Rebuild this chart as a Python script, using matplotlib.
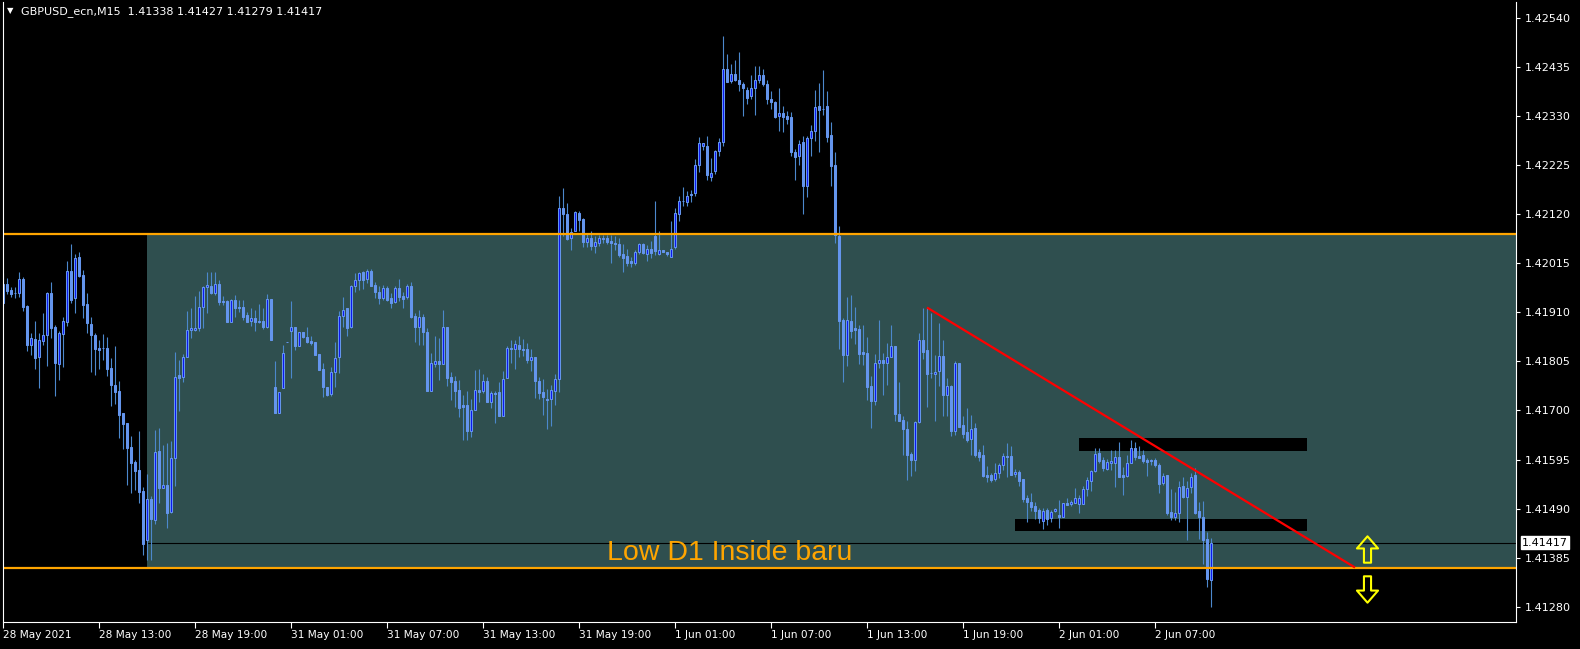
import matplotlib
matplotlib.use('Agg')
import matplotlib.pyplot as plt
import matplotlib.transforms as mtrans
from matplotlib.path import Path
import numpy as np

# ---------------- data (GBPUSD M15) ----------------
opens = [
 1.41929, 1.41970, 1.41958, 1.41951, 1.41952, 1.41981, 1.41923, 1.41840, 1.41853, 1.41815,
 1.41849, 1.41861, 1.41951, 1.41879, 1.41800, 1.41863, 1.41890, 1.41998, 1.41940, 1.42029,
 1.41990, 1.41928, 1.41885, 1.41861, 1.41834, 1.41834, 1.41834, 1.41791, 1.41754, 1.41742,
 1.41694, 1.41673, 1.41622, 1.41590, 1.41573, 1.41528, 1.41423, 1.41510, 1.41465, 1.41613,
 1.41533, 1.41540, 1.41483, 1.41598, 1.41775, 1.41772, 1.41815, 1.41871, 1.41873, 1.41877,
 1.41921, 1.41963, 1.41966, 1.41952, 1.41970, 1.41934, 1.41934, 1.41890, 1.41936, 1.41921,
 1.41921, 1.41904, 1.41891, 1.41898, 1.41892, 1.41892, 1.41878, 1.41939, 1.41749, 1.41695,
 1.41747, 1.41846, 1.41869, 1.41878, 1.41837, 1.41867, 1.41857, 1.41849, 1.41847, 1.41820,
 1.41789, 1.41750, 1.41735, 1.41782, 1.41815, 1.41902, 1.41918, 1.41879, 1.41966, 1.41979,
 1.41995, 1.41982, 1.41998, 1.41968, 1.41954, 1.41941, 1.41962, 1.41940, 1.41932, 1.41961,
 1.41945, 1.41942, 1.41966, 1.41901, 1.41879, 1.41899, 1.41868, 1.41742, 1.41800, 1.41806,
 1.41800, 1.41879, 1.41772, 1.41762, 1.41744, 1.41712, 1.41712, 1.41657, 1.41701, 1.41744,
 1.41742, 1.41763, 1.41719, 1.41737, 1.41740, 1.41688, 1.41769, 1.41834, 1.41831, 1.41840,
 1.41832, 1.41832, 1.41808, 1.41814, 1.41763, 1.41740, 1.41725, 1.41724, 1.41742, 1.41768,
 1.42133, 1.42121, 1.42068, 1.42083, 1.42123, 1.42110, 1.42061, 1.42069, 1.42052, 1.42058,
 1.42069, 1.42069, 1.42063, 1.42059, 1.42056, 1.42035, 1.42031, 1.42019, 1.42016, 1.42038,
 1.42056, 1.42035, 1.42046, 1.42073, 1.42034, 1.42044, 1.42039, 1.42029, 1.42049, 1.42120,
 1.42148, 1.42146, 1.42161, 1.42166, 1.42224, 1.42265, 1.42266, 1.42200, 1.42213, 1.42255,
 1.42274, 1.42430, 1.42404, 1.42419, 1.42407, 1.42397, 1.42386, 1.42372, 1.42389, 1.42407,
 1.42418, 1.42397, 1.42367, 1.42359, 1.42329, 1.42335, 1.42330, 1.42327, 1.42253, 1.42243,
 1.42273, 1.42179, 1.42282, 1.42297, 1.42352, 1.42345, 1.42352, 1.42290, 1.42225, 1.42074,
 1.41894, 1.41819, 1.41892, 1.41877, 1.41874, 1.41825, 1.41822, 1.41753, 1.41721, 1.41801,
 1.41808, 1.41801, 1.41815, 1.41838, 1.41693, 1.41680, 1.41660, 1.41607, 1.41593, 1.41675,
 1.41850, 1.41830, 1.41780, 1.41777, 1.41785, 1.41817, 1.41734, 1.41753, 1.41657, 1.41801,
 1.41669, 1.41653, 1.41638, 1.41663, 1.41610, 1.41605, 1.41562, 1.41561, 1.41553, 1.41566,
 1.41583, 1.41603, 1.41603, 1.41563, 1.41568, 1.41553, 1.41512, 1.41504, 1.41496, 1.41487,
 1.41464, 1.41487, 1.41469, 1.41485, 1.41476, 1.41473, 1.41501, 1.41500, 1.41503, 1.41500,
 1.41500, 1.41531, 1.41550, 1.41570, 1.41608, 1.41593, 1.41574, 1.41588, 1.41587, 1.41601,
 1.41562, 1.41560, 1.41588, 1.41619, 1.41603, 1.41605, 1.41593, 1.41592, 1.41594, 1.41583,
 1.41544, 1.41562, 1.41482, 1.41471, 1.41481, 1.41538, 1.41514, 1.41537, 1.41562, 1.41485,
 1.41473, 1.41424, 1.41338]

highs = [
 1.41993, 1.41983, 1.41963, 1.41963, 1.41996, 1.41986, 1.41926, 1.41865, 1.41892, 1.41865,
 1.41908, 1.41953, 1.41975, 1.41883, 1.41869, 1.41899, 1.42019, 1.42056, 1.42035, 1.42039,
 1.42000, 1.41951, 1.41899, 1.41865, 1.41851, 1.41864, 1.41856, 1.41812, 1.41838, 1.41762,
 1.41694, 1.41673, 1.41645, 1.41594, 1.41656, 1.41537, 1.41565, 1.41517, 1.41658, 1.41662,
 1.41627, 1.41630, 1.41635, 1.41825, 1.41808, 1.41820, 1.41913, 1.41919, 1.41944, 1.41956,
 1.41966, 1.41996, 1.41996, 1.41996, 1.41979, 1.41945, 1.41936, 1.41938, 1.41946, 1.41936,
 1.41936, 1.41910, 1.41919, 1.41914, 1.41928, 1.41919, 1.41949, 1.41939, 1.41806, 1.41739,
 1.41840, 1.41846, 1.41934, 1.41878, 1.41867, 1.41867, 1.41878, 1.41859, 1.41847, 1.41821,
 1.41802, 1.41750, 1.41793, 1.41847, 1.41912, 1.41943, 1.41919, 1.41969, 1.41994, 1.41997,
 1.41999, 1.42002, 1.42002, 1.41974, 1.41965, 1.41968, 1.41966, 1.41951, 1.41966, 1.41981,
 1.41954, 1.41970, 1.41975, 1.41908, 1.41915, 1.41907, 1.41876, 1.41823, 1.41860, 1.41855,
 1.41915, 1.41879, 1.41782, 1.41774, 1.41764, 1.41733, 1.41742, 1.41725, 1.41787, 1.41789,
 1.41777, 1.41772, 1.41742, 1.41742, 1.41761, 1.41785, 1.41837, 1.41851, 1.41851, 1.41860,
 1.41853, 1.41844, 1.41831, 1.41814, 1.41772, 1.41767, 1.41745, 1.41755, 1.41778, 1.42159,
 1.42176, 1.42144, 1.42091, 1.42126, 1.42127, 1.42111, 1.42079, 1.42083, 1.42072, 1.42076,
 1.42076, 1.42076, 1.42076, 1.42072, 1.42068, 1.42056, 1.42046, 1.42029, 1.42044, 1.42058,
 1.42058, 1.42054, 1.42063, 1.42148, 1.42084, 1.42044, 1.42039, 1.42106, 1.42132, 1.42158,
 1.42178, 1.42169, 1.42172, 1.42238, 1.42284, 1.42272, 1.42287, 1.42240, 1.42257, 1.42283,
 1.42501, 1.42463, 1.42441, 1.42450, 1.42467, 1.42402, 1.42392, 1.42418, 1.42436, 1.42436,
 1.42430, 1.42407, 1.42384, 1.42361, 1.42389, 1.42350, 1.42341, 1.42338, 1.42260, 1.42279,
 1.42287, 1.42287, 1.42311, 1.42386, 1.42400, 1.42429, 1.42382, 1.42317, 1.42253, 1.42095,
 1.41897, 1.41942, 1.41947, 1.41922, 1.41883, 1.41882, 1.41858, 1.41773, 1.41821, 1.41894,
 1.41822, 1.41845, 1.41883, 1.41838, 1.41761, 1.41688, 1.41678, 1.41610, 1.41678, 1.41865,
 1.41919, 1.41920, 1.41909, 1.41819, 1.41887, 1.41851, 1.41769, 1.41755, 1.41806, 1.41801,
 1.41688, 1.41706, 1.41690, 1.41674, 1.41618, 1.41625, 1.41581, 1.41567, 1.41587, 1.41588,
 1.41608, 1.41630, 1.41623, 1.41574, 1.41573, 1.41553, 1.41519, 1.41523, 1.41505, 1.41492,
 1.41492, 1.41492, 1.41487, 1.41492, 1.41508, 1.41503, 1.41512, 1.41508, 1.41533, 1.41519,
 1.41538, 1.41558, 1.41573, 1.41619, 1.41619, 1.41601, 1.41597, 1.41615, 1.41615, 1.41633,
 1.41580, 1.41605, 1.41637, 1.41632, 1.41623, 1.41615, 1.41598, 1.41596, 1.41598, 1.41588,
 1.41567, 1.41562, 1.41531, 1.41526, 1.41549, 1.41558, 1.41548, 1.41566, 1.41576, 1.41505,
 1.41506, 1.41439, 1.41427]

lows = [
 1.41923, 1.41950, 1.41943, 1.41940, 1.41943, 1.41913, 1.41828, 1.41819, 1.41789, 1.41747,
 1.41840, 1.41796, 1.41854, 1.41730, 1.41766, 1.41792, 1.41881, 1.41929, 1.41909, 1.41986,
 1.41897, 1.41866, 1.41783, 1.41776, 1.41788, 1.41808, 1.41774, 1.41710, 1.41713, 1.41642,
 1.41618, 1.41541, 1.41523, 1.41530, 1.41503, 1.41391, 1.41380, 1.41380, 1.41458, 1.41501,
 1.41533, 1.41448, 1.41480, 1.41539, 1.41699, 1.41760, 1.41815, 1.41854, 1.41869, 1.41869,
 1.41877, 1.41908, 1.41949, 1.41947, 1.41926, 1.41926, 1.41890, 1.41888, 1.41899, 1.41911,
 1.41893, 1.41888, 1.41880, 1.41869, 1.41887, 1.41875, 1.41876, 1.41850, 1.41695, 1.41695,
 1.41747, 1.41846, 1.41770, 1.41830, 1.41837, 1.41855, 1.41845, 1.41840, 1.41819, 1.41787,
 1.41728, 1.41730, 1.41731, 1.41751, 1.41779, 1.41878, 1.41860, 1.41876, 1.41954, 1.41958,
 1.41960, 1.41972, 1.41965, 1.41941, 1.41928, 1.41936, 1.41933, 1.41919, 1.41929, 1.41934,
 1.41919, 1.41939, 1.41898, 1.41847, 1.41840, 1.41839, 1.41742, 1.41742, 1.41792, 1.41765,
 1.41800, 1.41752, 1.41722, 1.41708, 1.41685, 1.41637, 1.41637, 1.41644, 1.41701, 1.41719,
 1.41737, 1.41719, 1.41705, 1.41673, 1.41687, 1.41687, 1.41769, 1.41801, 1.41788, 1.41815,
 1.41817, 1.41801, 1.41785, 1.41726, 1.41725, 1.41691, 1.41660, 1.41667, 1.41711, 1.41740,
 1.42072, 1.42064, 1.42042, 1.42083, 1.42084, 1.42049, 1.42049, 1.42042, 1.42036, 1.42052,
 1.42058, 1.42056, 1.42016, 1.42044, 1.42029, 1.41995, 1.42008, 1.42006, 1.42011, 1.42035,
 1.42035, 1.42019, 1.42027, 1.42032, 1.42033, 1.42038, 1.42031, 1.42029, 1.42046, 1.42106,
 1.42138, 1.42138, 1.42146, 1.42159, 1.42209, 1.42256, 1.42193, 1.42190, 1.42206, 1.42243,
 1.42265, 1.42402, 1.42400, 1.42404, 1.42384, 1.42330, 1.42356, 1.42366, 1.42332, 1.42400,
 1.42393, 1.42356, 1.42345, 1.42326, 1.42297, 1.42295, 1.42313, 1.42243, 1.42193, 1.42225,
 1.42121, 1.42156, 1.42245, 1.42277, 1.42253, 1.42332, 1.42273, 1.42180, 1.42058, 1.41832,
 1.41760, 1.41795, 1.41854, 1.41842, 1.41800, 1.41797, 1.41723, 1.41663, 1.41712, 1.41790,
 1.41732, 1.41755, 1.41814, 1.41678, 1.41678, 1.41605, 1.41551, 1.41559, 1.41571, 1.41673,
 1.41810, 1.41708, 1.41770, 1.41678, 1.41752, 1.41688, 1.41687, 1.41646, 1.41648, 1.41665,
 1.41640, 1.41633, 1.41605, 1.41601, 1.41591, 1.41557, 1.41546, 1.41546, 1.41548, 1.41556,
 1.41573, 1.41558, 1.41561, 1.41558, 1.41538, 1.41505, 1.41461, 1.41484, 1.41468, 1.41459,
 1.41446, 1.41456, 1.41461, 1.41482, 1.41449, 1.41471, 1.41498, 1.41496, 1.41501, 1.41481,
 1.41499, 1.41517, 1.41528, 1.41568, 1.41588, 1.41571, 1.41573, 1.41573, 1.41537, 1.41557,
 1.41519, 1.41558, 1.41587, 1.41594, 1.41598, 1.41588, 1.41560, 1.41583, 1.41580, 1.41523,
 1.41541, 1.41476, 1.41466, 1.41466, 1.41462, 1.41513, 1.41423, 1.41523, 1.41479, 1.41426,
 1.41372, 1.41322, 1.41279]

closes = [
 1.41970, 1.41956, 1.41948, 1.41951, 1.41980, 1.41922, 1.41840, 1.41854, 1.41813, 1.41851,
 1.41861, 1.41951, 1.41877, 1.41801, 1.41866, 1.41891, 1.41998, 1.41936, 1.42025, 1.41988,
 1.41926, 1.41886, 1.41861, 1.41831, 1.41829, 1.41834, 1.41789, 1.41755, 1.41740, 1.41690,
 1.41672, 1.41620, 1.41588, 1.41571, 1.41526, 1.41414, 1.41510, 1.41467, 1.41610, 1.41533,
 1.41540, 1.41481, 1.41598, 1.41772, 1.41770, 1.41815, 1.41872, 1.41876, 1.41876, 1.41921,
 1.41963, 1.41968, 1.41952, 1.41970, 1.41931, 1.41931, 1.41890, 1.41936, 1.41918, 1.41918,
 1.41900, 1.41889, 1.41897, 1.41888, 1.41888, 1.41878, 1.41938, 1.41851, 1.41695, 1.41739,
 1.41822, 1.41846, 1.41878, 1.41837, 1.41867, 1.41857, 1.41847, 1.41844, 1.41819, 1.41787,
 1.41749, 1.41733, 1.41782, 1.41812, 1.41902, 1.41914, 1.41877, 1.41966, 1.41979, 1.41994,
 1.41979, 1.41998, 1.41967, 1.41954, 1.41941, 1.41961, 1.41937, 1.41929, 1.41961, 1.41943,
 1.41938, 1.41966, 1.41900, 1.41879, 1.41899, 1.41868, 1.41742, 1.41802, 1.41806, 1.41800,
 1.41879, 1.41770, 1.41760, 1.41742, 1.41705, 1.41708, 1.41657, 1.41701, 1.41743, 1.41740,
 1.41763, 1.41719, 1.41737, 1.41735, 1.41688, 1.41767, 1.41833, 1.41831, 1.41842, 1.41831,
 1.41829, 1.41808, 1.41814, 1.41762, 1.41738, 1.41729, 1.41722, 1.41744, 1.41768, 1.42133,
 1.42121, 1.42066, 1.42081, 1.42124, 1.42107, 1.42061, 1.42069, 1.42052, 1.42061, 1.42069,
 1.42066, 1.42061, 1.42059, 1.42055, 1.42033, 1.42026, 1.42016, 1.42016, 1.42038, 1.42056,
 1.42036, 1.42045, 1.42037, 1.42041, 1.42043, 1.42038, 1.42035, 1.42045, 1.42123, 1.42148,
 1.42148, 1.42159, 1.42162, 1.42225, 1.42272, 1.42271, 1.42203, 1.42208, 1.42255, 1.42274,
 1.42430, 1.42402, 1.42419, 1.42407, 1.42397, 1.42390, 1.42369, 1.42390, 1.42407, 1.42418,
 1.42397, 1.42367, 1.42359, 1.42327, 1.42335, 1.42327, 1.42324, 1.42253, 1.42241, 1.42270,
 1.42179, 1.42282, 1.42298, 1.42349, 1.42343, 1.42345, 1.42285, 1.42223, 1.42076, 1.41892,
 1.41819, 1.41894, 1.41869, 1.41872, 1.41821, 1.41821, 1.41751, 1.41721, 1.41801, 1.41807,
 1.41801, 1.41815, 1.41838, 1.41693, 1.41678, 1.41660, 1.41605, 1.41593, 1.41675, 1.41850,
 1.41825, 1.41778, 1.41780, 1.41783, 1.41817, 1.41734, 1.41753, 1.41657, 1.41801, 1.41665,
 1.41650, 1.41637, 1.41660, 1.41605, 1.41601, 1.41560, 1.41557, 1.41551, 1.41567, 1.41583,
 1.41603, 1.41600, 1.41561, 1.41568, 1.41550, 1.41511, 1.41505, 1.41494, 1.41484, 1.41469,
 1.41485, 1.41467, 1.41482, 1.41489, 1.41473, 1.41501, 1.41498, 1.41504, 1.41512, 1.41513,
 1.41531, 1.41551, 1.41570, 1.41606, 1.41592, 1.41576, 1.41590, 1.41592, 1.41601, 1.41558,
 1.41558, 1.41588, 1.41619, 1.41600, 1.41599, 1.41591, 1.41590, 1.41594, 1.41583, 1.41542,
 1.41560, 1.41480, 1.41471, 1.41481, 1.41537, 1.41514, 1.41533, 1.41558, 1.41481, 1.41471,
 1.41423, 1.41339, 1.41417]

time_labels = ["28 May 2021", "28 May 13:00", "28 May 19:00", "31 May 01:00",
               "31 May 07:00", "31 May 13:00", "31 May 19:00", "1 Jun 01:00",
               "1 Jun 07:00", "1 Jun 13:00", "1 Jun 19:00", "2 Jun 01:00",
               "2 Jun 07:00"]
bars_per_label = 24

price_ticks = [1.42540, 1.42435, 1.42330, 1.42225, 1.42120, 1.42015, 1.41910,
               1.41805, 1.41700, 1.41595, 1.41490, 1.41385, 1.41280]

header = "GBPUSD_ecn,M15  1.41338 1.41427 1.41279 1.41417"
current_price = 1.41417
d1_high = 1.42078
d1_low = 1.41362
d1_start_bar = 36
trend_bars = [231, 338]
trend_prices = [1.41920, 1.41364]
zone_upper_bars = [269, 326]
zone_upper_prices = [1.41613, 1.41641]
zone_lower_bars = [253, 326]
zone_lower_prices = [1.41443, 1.41468]
note_text = "Low D1 Inside baru"
note_bar = 151
note_price = 1.41381
arrow_bar = 341
arrow_up_price = 1.41404
arrow_down_price = 1.41318

# ---------------- figure ----------------
W, H = 1580, 649
fig = plt.figure(figsize=(W / 100, H / 100), dpi=100, facecolor='black')
ax_l, ax_r, ax_t, ax_b = 3, 1516, 2, 622
ax = fig.add_axes([ax_l / W, 1 - ax_b / H, (ax_r - ax_l) / W, (ax_b - ax_t) / H])
ax.set_facecolor('black')

n = len(opens)
x = np.arange(n)
o = np.array(opens); h = np.array(highs); l = np.array(lows); c = np.array(closes)
xmax = (ax_r - ax_l) / 4.0
ax.set_xlim(0, xmax)
ax.set_ylim(1.412475, 1.425734)

# D1 range box
ax.fill_between([d1_start_bar, xmax], d1_low, d1_high, color='#2F4F4F', lw=0, zorder=0)
# black zones
ax.fill_between(zone_upper_bars, zone_upper_prices[0], zone_upper_prices[1], color='black', lw=0, zorder=1)
ax.fill_between(zone_lower_bars, zone_lower_prices[0], zone_lower_prices[1], color='black', lw=0, zorder=1)

# current price line (under the frame)
ax.hlines(current_price, 0.6, xmax, colors='black', lw=0.8, zorder=1.5)

# candles
wick_col = '#4C88CC'
body_col = '#6495ED'
bull_fill = '#0A14F0'
ax.vlines(x, l, h, colors=wick_col, lw=0.8, zorder=2)
bull = c > o
bear = ~bull
bw = 0.58
ax.bar(x[bear], (o - c)[bear], bottom=c[bear], width=bw, color=body_col,
       edgecolor=body_col, lw=0.75, zorder=3)
ax.bar(x[bull], (c - o)[bull], bottom=o[bull], width=bw, color=bull_fill,
       edgecolor=body_col, lw=0.75, zorder=3)

# level lines
ax.axhline(d1_high, color='#FFA500', lw=1.6, zorder=5)
ax.axhline(d1_low, color='#FFA500', lw=1.6, zorder=5)

# trend line
ax.plot(trend_bars, trend_prices, color='#FF0000', lw=1.6, zorder=6, solid_capstyle='butt')

# note text
ax.text(note_bar, note_price, note_text, color='#FFA500', fontsize=20.5,
        family='Liberation Sans', ha='left', va='baseline', zorder=7)

# hollow arrows
up_verts = [(-0.135, -0.5), (0.135, -0.5), (0.135, 0.04), (0.4, 0.04), (0.0, 0.5),
            (-0.4, 0.04), (-0.135, 0.04), (-0.135, -0.5)]
codes = [Path.MOVETO] + [Path.LINETO] * 6 + [Path.CLOSEPOLY]
up_path = Path(up_verts, codes)
down_path = Path([(vx, -vy) for vx, vy in up_verts], codes)
ax.plot([arrow_bar], [arrow_up_price], marker=up_path, markersize=19,
        mfc='none', mec='#FFFF00', mew=1.5, ls='none', zorder=7)
ax.plot([arrow_bar], [arrow_down_price], marker=down_path, markersize=19,
        mfc='none', mec='#FFFF00', mew=1.5, ls='none', zorder=7)

# axes styling
for side in ['left', 'right', 'bottom']:
    ax.spines[side].set_color('white')
    ax.spines[side].set_linewidth(0.8)
    ax.spines[side].set_zorder(8)
ax.spines['top'].set_visible(False)

ax.yaxis.tick_right()
ax.set_yticks(price_ticks)
ax.set_yticklabels([f"{p:.5f}" for p in price_ticks])
ax.tick_params(axis='y', colors='white', length=3, width=0.8, labelsize=8, pad=3)

xt = list(range(0, bars_per_label * len(time_labels), bars_per_label))
ax.set_xticks(xt)
ax.set_xticklabels(time_labels)
ax.tick_params(axis='x', colors='white', length=4, width=0.8, labelsize=7.6, pad=2)
for lbl in ax.get_xticklabels():
    lbl.set_ha('left')

# current price label on the axis
trans = mtrans.blended_transform_factory(ax.transAxes, ax.transData)
ax.text(1.004, current_price, f"{current_price:.5f}", transform=trans, ha='left',
        va='center', fontsize=8, color='black', clip_on=False, zorder=10,
        bbox=dict(boxstyle='square,pad=0.12', fc='white', ec='white'))

# header
fig.text(7 / W, 1 - 11 / H, '\u25BC', color='white', fontsize=6, va='center', ha='left')
fig.text(21 / W, 1 - 12 / H, header, color='white', fontsize=8, va='center', ha='left')

fig.savefig('out.png', dpi=100, facecolor='black')
